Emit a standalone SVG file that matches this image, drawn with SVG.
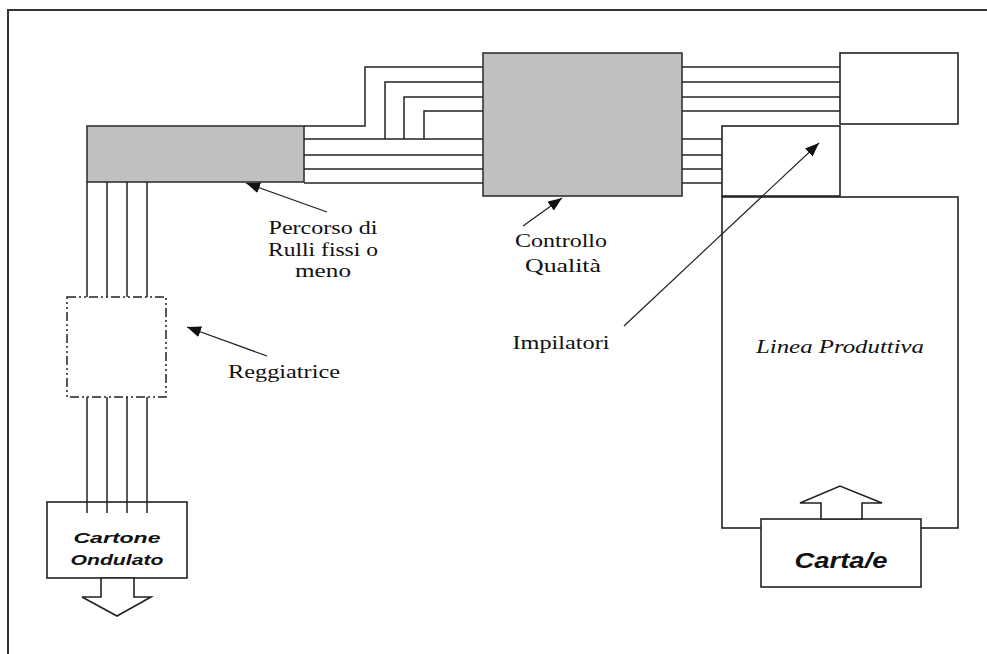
<svg xmlns="http://www.w3.org/2000/svg" width="987" height="654" viewBox="0 0 987 654">
<style>
.box{fill:#fff;stroke:#222;stroke-width:1.6}
.gray{fill:#c0c0c0;stroke:#333;stroke-width:1.6}
.ln{fill:none;stroke:#222;stroke-width:1.5}
.ptr{fill:none;stroke:#222;stroke-width:1.2}
.lbl{font-family:"Liberation Serif",serif;font-size:18px;fill:#111;text-anchor:middle}
.bi{font-family:"Liberation Sans",Arial,sans-serif;font-weight:bold;font-style:italic;fill:#111;text-anchor:middle}
</style>
<defs>
<marker id="ah" markerUnits="userSpaceOnUse" markerWidth="15" markerHeight="11" refX="14" refY="5.5" orient="auto">
<path d="M0,0 L14,5.5 L0,11 z" fill="#111"/>
</marker>
</defs>
<rect x="0" y="0" width="987" height="654" fill="#fff"/>
<rect id="frame" x="8" y="10" width="1000" height="700" fill="none" stroke="#333" stroke-width="2"/>

<g id="percorso">
<rect class="gray" x="87" y="126" width="217" height="56"/>
</g>
<g id="controllo">
<rect class="gray" x="483" y="53" width="199" height="143"/>
</g>
<g id="box-top-right">
<rect class="box" x="840" y="53" width="118" height="71"/>
</g>
<g id="impilatori">
<rect class="box" x="722" y="126" width="118" height="70"/>
</g>
<g id="linea">
<rect class="box" x="722" y="197" width="236" height="331"/>
<text x="840" y="353" style="font-family:'Liberation Serif',serif;font-style:italic;font-size:19px;fill:#111;text-anchor:middle" textLength="168" lengthAdjust="spacingAndGlyphs">Linea Produttiva</text>
</g>
<g id="carta">
<rect class="box" x="761" y="519" width="160" height="68"/>
<polygon class="box" stroke-width="1.2" points="821,519 821,503 800,503 840,486 882,503 862,503 862,519"/>
<text class="bi" x="841" y="568" font-size="22" textLength="93" lengthAdjust="spacingAndGlyphs">Carta/e</text>
</g>
<g id="reggiatrice">
<rect x="67" y="297" width="99" height="100" fill="none" stroke="#222" stroke-width="1.5" stroke-dasharray="9 3 2 3 2 3"/>
</g>
<g id="cartone">
<rect class="box" x="47" y="502" width="140" height="76"/>
<polygon class="box" stroke-width="1.2" points="101,578 101,597 82,597 117,616 151,597 134,597 134,578"/>
<text class="bi" x="117" y="543" font-size="15" textLength="87" lengthAdjust="spacingAndGlyphs">Cartone</text>
<text class="bi" x="117" y="565" font-size="15" textLength="93" lengthAdjust="spacingAndGlyphs">Ondulato</text>
</g>

<g id="connectors">
<polyline class="ln" points="304,126 365,126 365,67 483,67"/>
<polyline class="ln" points="385,139 385,82 483,82"/>
<polyline class="ln" points="404,139 404,97 483,97"/>
<polyline class="ln" points="424,139 424,111 483,111"/>
<line class="ln" x1="304" y1="139" x2="483" y2="139"/>
<line class="ln" x1="304" y1="155" x2="483" y2="155"/>
<line class="ln" x1="304" y1="169" x2="483" y2="169"/>
<line class="ln" x1="304" y1="183" x2="483" y2="183"/>
<line class="ln" x1="682" y1="67" x2="840" y2="67"/>
<line class="ln" x1="682" y1="82" x2="840" y2="82"/>
<line class="ln" x1="682" y1="97" x2="840" y2="97"/>
<line class="ln" x1="682" y1="111" x2="840" y2="111"/>
<line class="ln" x1="682" y1="139" x2="722" y2="139"/>
<line class="ln" x1="682" y1="155" x2="722" y2="155"/>
<line class="ln" x1="682" y1="169" x2="722" y2="169"/>
<line class="ln" x1="682" y1="183" x2="722" y2="183"/>
<line class="ln" x1="87" y1="182" x2="87" y2="297"/>
<line class="ln" x1="107" y1="182" x2="107" y2="297"/>
<line class="ln" x1="127" y1="182" x2="127" y2="297"/>
<line class="ln" x1="147" y1="182" x2="147" y2="297"/>
<line class="ln" x1="87" y1="397" x2="87" y2="513"/>
<line class="ln" x1="107" y1="397" x2="107" y2="513"/>
<line class="ln" x1="127" y1="397" x2="127" y2="513"/>
<line class="ln" x1="147" y1="397" x2="147" y2="513"/>
<line class="ptr" x1="327" y1="212" x2="246" y2="183" marker-end="url(#ah)"/>
<line class="ptr" x1="523" y1="226" x2="562" y2="198" marker-end="url(#ah)"/>
<line class="ptr" x1="624" y1="326" x2="819" y2="143" marker-end="url(#ah)"/>
<line class="ptr" x1="267" y1="356" x2="187" y2="327" marker-end="url(#ah)"/>
</g>

<g id="labels">
<text class="lbl" x="323" y="234" font-size="19" textLength="109" lengthAdjust="spacingAndGlyphs">Percorso di</text>
<text class="lbl" x="323" y="256" font-size="19" textLength="110" lengthAdjust="spacingAndGlyphs">Rulli fissi o</text>
<text class="lbl" x="323" y="277" font-size="19" textLength="56" lengthAdjust="spacingAndGlyphs">meno</text>
<text class="lbl" x="561" y="247" textLength="92" lengthAdjust="spacingAndGlyphs">Controllo</text>
<text class="lbl" x="563" y="272" textLength="76" lengthAdjust="spacingAndGlyphs">Qualità</text>
<text class="lbl" x="561" y="349" textLength="97" lengthAdjust="spacingAndGlyphs">Impilatori</text>
<text class="lbl" x="284" y="378" textLength="112" lengthAdjust="spacingAndGlyphs">Reggiatrice</text>
</g>
</svg>
